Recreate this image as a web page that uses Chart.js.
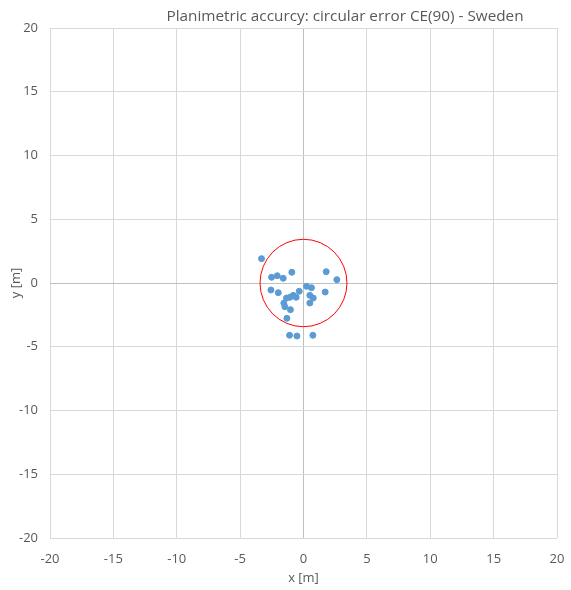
<!DOCTYPE html>
<html>
<head>
<meta charset="utf-8">
<script src="https://cdn.jsdelivr.net/npm/chart.js@4/dist/chart.umd.min.js"></script>
<style>
  html, body { margin: 0; padding: 0; background: #fff; }
  #wrap { width: 571px; height: 590px; position: relative; }
</style>
</head>
<body>
<div id="wrap"><canvas id="ceChart"></canvas></div>
<script>
// Planimetric errors of check points (m)
const errX = [-3.31, -2.52, -2.07, -1.60, -0.92, 1.79, 2.63, -2.57, -1.99, -0.34,
              0.24, 0.63, 1.71, 0.50, 0.77, 0.50, -1.34, -1.07, -0.81, -0.58,
              -1.55, -1.47, -1.03, -1.31, -1.10, -0.52, 0.74];
const errY = [1.91, 0.45, 0.57, 0.37, 0.84, 0.89, 0.26, -0.55, -0.76, -0.65,
              -0.26, -0.37, -0.71, -0.97, -1.18, -1.57, -1.18, -1.12, -0.97, -1.12,
              -1.57, -1.86, -2.09, -2.77, -4.10, -4.16, -4.10];
const ce90Radius = 3.43;
const axisTicks = [-20, -15, -10, -5, 0, 5, 10, 15, 20];
const chartTitle = 'Planimetric accurcy: circular error CE(90) - Sweden';

const points = errX.map((x, i) => ({ x: x, y: errY[i] }));

const gray = '#595959';
const tickFont = { family: 'Open Sans', size: 13 };

function gridColor(ctx) {
  return ctx.tick && ctx.tick.value === 0 ? '#bfbfbf' : '#d9d9d9';
}

// draw the CE90 circle in data units + the title
const extras = {
  id: 'extras',
  beforeDatasetsDraw(chart) {
    const c = chart.ctx, xs = chart.scales.x, ys = chart.scales.y;
    const cx = xs.getPixelForValue(0), cy = ys.getPixelForValue(0);
    const rx = xs.getPixelForValue(ce90Radius) - cx;
    const ry = cy - ys.getPixelForValue(ce90Radius);
    c.save();
    c.strokeStyle = '#ff0000';
    c.lineWidth = 1;
    c.beginPath();
    c.ellipse(cx, cy, rx, ry, 0, 0, Math.PI * 2);
    c.stroke();
    c.restore();
  },
  afterDraw(chart) {
    const c = chart.ctx;
    c.save();
    c.fillStyle = gray;
    c.font = '15.3px "Open Sans"';
    c.textAlign = 'center';
    c.textBaseline = 'middle';
    c.fillText(chartTitle, 345, 17);
    c.restore();
  }
};

new Chart(document.getElementById('ceChart'), {
  type: 'scatter',
  data: {
    datasets: [{
      label: 'CE90',
      data: points,
      backgroundColor: '#5b9bd5',
      borderColor: '#5b9bd5',
      pointRadius: 3,
      pointHoverRadius: 3
    }]
  },
  options: {
    responsive: true,
    maintainAspectRatio: false,
    animation: false,
    layout: { padding: { top: 28, right: 14, left: 8, bottom: 0 } },
    plugins: {
      legend: { display: false },
      tooltip: { enabled: false }
    },
    scales: {
      x: {
        type: 'linear',
        min: -20, max: 20,
        afterBuildTicks: s => { s.ticks = axisTicks.map(v => ({ value: v })); },
        afterFit: s => { s.height = 52; s.paddingRight = 0; s.paddingLeft = 0; },
        ticks: { color: gray, font: tickFont, padding: 13 },
        grid: { color: gridColor, drawTicks: false },
        border: { display: false },
        title: { display: true, text: 'x [m]', color: gray, font: tickFont, padding: { top: 0 } }
      },
      y: {
        type: 'linear',
        min: -20, max: 20,
        afterBuildTicks: s => { s.ticks = axisTicks.map(v => ({ value: v })); },
        afterFit: s => { s.width = 42; },
        ticks: { color: gray, font: tickFont, padding: 12 },
        grid: { color: gridColor, drawTicks: false },
        border: { display: false },
        title: { display: true, text: 'y [m]', color: gray, font: tickFont, padding: 0 }
      }
    }
  },
  plugins: [extras]
});
</script>
</body>
</html>
